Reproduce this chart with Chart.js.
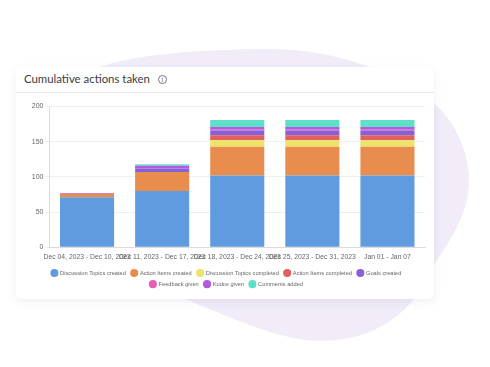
<!DOCTYPE html>
<html lang="en">
<head>
  <meta charset="UTF-8">
  <title>Cumulative actions taken</title>
  <script src="https://cdn.jsdelivr.net/npm/chart.js"></script>
  <style>
    html, body { margin: 0; padding: 0; background: #fff; }
    body { position: relative; width: 490px; height: 367px; overflow: hidden; }
    #blob { position: absolute; left: 0; top: 0; }
    .card {
      position: absolute; left: 16px; top: 67px; width: 418px; height: 232px;
      background: #fff; border-radius: 6px;
      box-shadow: 0 3px 10px rgba(90, 70, 140, 0.09);
    }
    .card-head {
      height: 25px; border-bottom: 1px solid #e9e9ec;
      font: 11.4px Lato, sans-serif; color: #3a3d42; line-height: 24px; padding-left: 8px;
    }
    .info {
      display: inline-block; width: 7px; height: 7px; border: 1px solid #777; border-radius: 50%;
      font: 7px/7px "Liberation Sans", sans-serif; text-align: center; color: #666;
      margin-left: 8px; vertical-align: 1px;
    }
    .chart-box { position: absolute; left: 0; top: 26px; width: 418px; height: 206px; }
  </style>
</head>
<body>
<svg id="blob" width="490" height="367">
  <path fill="#f1ecf8" d="M97 68 C130 55 200 49 270 49 C340 49 400 75 434 103 C458 125 469 155 469 180 C469 215 450 240 434 265 C424 280 418 292 413 300 C395 322 365 341 320 341 C285 341 240 322 180 297 Z"/>
</svg>
<div class="card">
  <div class="card-head">Cumulative actions taken<span class="info">i</span></div>
  <div class="chart-box"><canvas id="actionsChart" width="418" height="206"></canvas></div>
</div>
<script>
  const weeks = ['Dec 04, 2023 - Dec 10, 2023', 'Dec 11, 2023 - Dec 17, 2023', 'Dec 18, 2023 - Dec 24, 2023', 'Dec 25, 2023 - Dec 31, 2023', 'Jan 01 - Jan 07'];
  const yTicks = [0, 50, 100, 150, 200];

  const topicsCreated = [71, 80, 102, 102, 102];
  const itemsCreated = [5, 27, 41, 41, 41];
  const topicsCompleted = [0, 0, 9, 9, 9];
  const itemsCompleted = [0, 0, 7, 7, 7];
  const goalsCreated = [0, 5, 7, 7, 7];
  const feedbackGiven = [0, 0, 1, 1, 1];
  const kudosGiven = [1, 4, 4, 4, 4];
  const commentsAdded = [0, 2, 10, 10, 10];

  const ctx = document.getElementById('actionsChart').getContext('2d');
  new Chart(ctx, {
    type: 'bar',
    data: {
      labels: weeks,
      datasets: [
        { label: 'Discussion Topics created', data: topicsCreated, backgroundColor: '#5f9bde' },
        { label: 'Action Items created', data: itemsCreated, backgroundColor: '#e98d4f' },
        { label: 'Discussion Topics completed', data: topicsCompleted, backgroundColor: '#ede36a' },
        { label: 'Action Items completed', data: itemsCompleted, backgroundColor: '#e2605e' },
        { label: 'Goals created', data: goalsCreated, backgroundColor: '#8560d8' },
        { label: 'Feedback given', data: feedbackGiven, backgroundColor: '#e75fb0' },
        { label: 'Kudos given', data: kudosGiven, backgroundColor: '#b55adf' },
        { label: 'Comments added', data: commentsAdded, backgroundColor: '#5ee0c8' },
      ],
    },
    options: {
      responsive: false,
      animation: false,
      layout: { padding: { top: 13.5, right: 9, left: 12, bottom: 2 } },
      scales: {
        x: {
          stacked: true,
          grid: { display: false, drawTicks: false },
          border: { color: '#dcdcdc' },
          afterFit: axis => { axis.height = 17.3; },
          ticks: {
            autoSkip: false, maxRotation: 0, minRotation: 0, padding: 6,
            color: '#666', font: { family: 'Liberation Sans', size: 6.8 },
          },
        },
        y: {
          stacked: true,
          min: 0,
          max: 200,
          afterBuildTicks: axis => { axis.ticks = yTicks.map(value => ({ value })); },
          afterFit: axis => { axis.width = 21.5; },
          grid: { color: '#efefef', tickLength: 4 },
          border: { color: '#dcdcdc' },
          ticks: {
            padding: 2, color: '#666', font: { family: 'Liberation Sans', size: 7 },
          },
        },
      },
      plugins: {
        tooltip: { enabled: false },
        legend: {
          position: 'bottom',
          labels: {
            usePointStyle: true, pointStyle: 'circle', boxHeight: 6, padding: 5.5,
            color: '#666', font: { family: 'Liberation Sans', size: 5.7 },
          },
        },
      },
    },
  });
</script>
</body>
</html>
